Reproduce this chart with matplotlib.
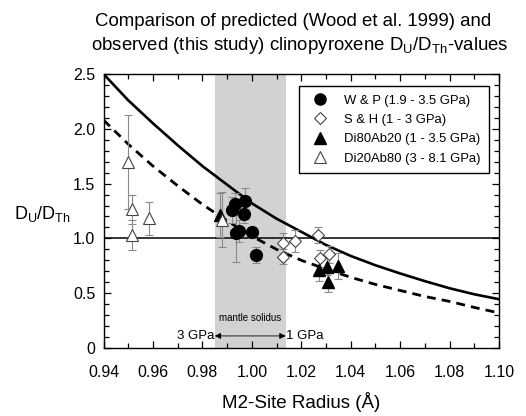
import matplotlib
matplotlib.use("Agg")
import matplotlib.pyplot as plt
from matplotlib.ticker import MultipleLocator, FuncFormatter
from matplotlib.lines import Line2D

plt.rcParams['font.family'] = ['Liberation Sans', 'DejaVu Sans']
plt.rcParams['mathtext.fontset'] = 'custom'
plt.rcParams['mathtext.rm'] = 'Liberation Sans'
plt.rcParams['mathtext.it'] = 'Liberation Sans:italic'
plt.rcParams['mathtext.bf'] = 'Liberation Sans:bold'

# ---- data ----
curve_x = [0.94, 0.95, 0.96, 0.97, 0.98, 0.99, 1.00, 1.01, 1.02, 1.03, 1.04,
           1.05, 1.06, 1.07, 1.08, 1.09, 1.10]
pred_solid = [2.50, 2.26, 2.05, 1.85, 1.66, 1.49, 1.32, 1.18, 1.06, 0.94, 0.84,
              0.755, 0.68, 0.61, 0.545, 0.49, 0.445]
pred_dashed = [2.08, 1.86, 1.66, 1.48, 1.31, 1.16, 1.02, 0.90, 0.80, 0.72, 0.645,
               0.58, 0.525, 0.47, 0.425, 0.37, 0.32]

wp_x = [0.9919, 0.9932, 0.9972, 0.9970, 0.9935, 0.9947, 1.0002, 1.0017]
wp_y = [1.259, 1.311, 1.341, 1.220, 1.045, 1.070, 1.055, 0.849]
wp_err = [0.12, 0.10, 0.12, 0.08, 0.26, 0.10, 0.05, 0.07]

sh_x = [1.0125, 1.0125, 1.0175, 1.0269, 1.0276, 1.0314]
sh_y = [0.955, 0.833, 0.976, 1.031, 0.818, 0.855]
sh_err = [0.09, 0.07, 0.10, 0.07, 0.08, 0.08]

di80_x = [0.9870, 1.0273, 1.0303, 1.0350, 1.0310]
di80_y = [1.215, 0.712, 0.742, 0.751, 0.605]
di80_err = [0.20, 0.10, 0.08, 0.12, 0.09]

di20_x = [0.9500, 0.9517, 0.9517, 0.9586, 0.9878]
di20_y = [1.70, 1.265, 1.03, 1.183, 1.17]
di20_err = [0.43, 0.13, 0.14, 0.15, 0.25]

solidus_range = (0.9850, 1.0137)
legend_labels = ['W & P (1.9 - 3.5 GPa)', 'S & H (1 - 3 GPa)',
                 'Di80Ab20 (1 - 3.5 GPa)', 'Di20Ab80 (3 - 8.1 GPa)']

# ---- figure ----
fig = plt.figure(figsize=(5.26, 4.16), dpi=100)
ax = fig.add_axes([0.1968, 0.1635, 0.9487 - 0.1968, 0.8221 - 0.1635])

ax.axvspan(*solidus_range, color='#d2d2d2', lw=0, zorder=0)
ax.axhline(1.0, color='black', lw=1.1, zorder=1)
ax.plot(curve_x, pred_solid, color='black', lw=1.9, zorder=2)
ax.plot(curve_x, pred_dashed, color='black', lw=2.0, dashes=(3.2, 2.2), zorder=2)

ekw = dict(ecolor='#8a8a8a', elinewidth=0.8, capsize=2.6, capthick=0.8, ls='none', zorder=3)
ms = 8.5
ax.errorbar(wp_x, wp_y, yerr=wp_err, fmt='o', mfc='black', mec='black', ms=ms, **ekw)
ax.errorbar(sh_x, sh_y, yerr=sh_err, fmt='D', mfc='white', mec='#444444', mew=0.8, ms=6.5, **ekw)
ax.errorbar(di80_x, di80_y, yerr=di80_err, fmt='^', mfc='black', mec='black', ms=ms, **ekw)
ax.errorbar(di20_x, di20_y, yerr=di20_err, fmt='^', mfc='white', mec='#444444', mew=0.8, ms=ms, **ekw)

ax.set_xlim(0.94, 1.10)
ax.set_ylim(0, 2.5)
ax.xaxis.set_major_locator(MultipleLocator(0.02))
ax.xaxis.set_minor_locator(MultipleLocator(0.01))
ax.yaxis.set_major_locator(MultipleLocator(0.5))
ax.yaxis.set_minor_locator(MultipleLocator(0.1))
ax.xaxis.set_major_formatter(FuncFormatter(lambda v, p: f'{v:.2f}'))
ax.yaxis.set_major_formatter(FuncFormatter(lambda v, p: '0' if abs(v) < 1e-9 else f'{v:.1f}'))
ax.tick_params(which='both', direction='in', top=True, right=True, width=0.9)
ax.tick_params(which='major', length=5)
ax.tick_params(which='minor', length=3.5)
ax.tick_params(axis='x', which='major', labelsize=11.5, pad=12)
ax.tick_params(axis='y', which='major', labelsize=11.5, pad=6)
for s in ax.spines.values():
    s.set_linewidth(1.0)

ax.set_xlabel('M2-Site Radius (Å)', fontsize=13.5, labelpad=9)
fig.text(0.08, 0.486, r'D$_\mathrm{U}$/D$_\mathrm{Th}$', fontsize=13, ha='center', va='center')

fig.text(0.557, 0.949, 'Comparison of predicted (Wood et al. 1999) and', fontsize=13.4,
         ha='center', va='center')
fig.text(0.569, 0.891, r'observed (this study) clinopyroxene D$_\mathrm{U}$/D$_\mathrm{Th}$-values',
         fontsize=13.4, ha='center', va='center')

# mantle solidus annotation
ax.text(sum(solidus_range) / 2, 0.27, 'mantle solidus', fontsize=7, ha='center', va='center')
ax.annotate('', xy=(solidus_range[0], 0.11), xytext=(solidus_range[1], 0.11),
            arrowprops=dict(arrowstyle='<|-|>', color='black', lw=0.6,
                            mutation_scale=9, shrinkA=0, shrinkB=0))
ax.text(solidus_range[0] - 0.0003, 0.11, '3 GPa', fontsize=9.5, ha='right', va='center')
ax.text(solidus_range[1] + 0.0003, 0.11, '1 GPa', fontsize=9.5, ha='left', va='center')

handles = [
    Line2D([], [], ls='none', marker='o', mfc='black', mec='black', ms=8),
    Line2D([], [], ls='none', marker='D', mfc='white', mec='#444444', mew=0.8, ms=6),
    Line2D([], [], ls='none', marker='^', mfc='black', mec='black', ms=8),
    Line2D([], [], ls='none', marker='^', mfc='white', mec='#444444', mew=0.8, ms=8),
]
leg = ax.legend(handles, legend_labels, loc='upper right', bbox_to_anchor=(0.9755, 0.956),
                borderaxespad=0, fontsize=9.4, frameon=True, fancybox=False,
                edgecolor='black', framealpha=1, handletextpad=1.0, labelspacing=0.55,
                borderpad=0.65, handlelength=1.8)
leg.get_frame().set_linewidth(1.0)

fig.savefig('out.png', dpi=100)
